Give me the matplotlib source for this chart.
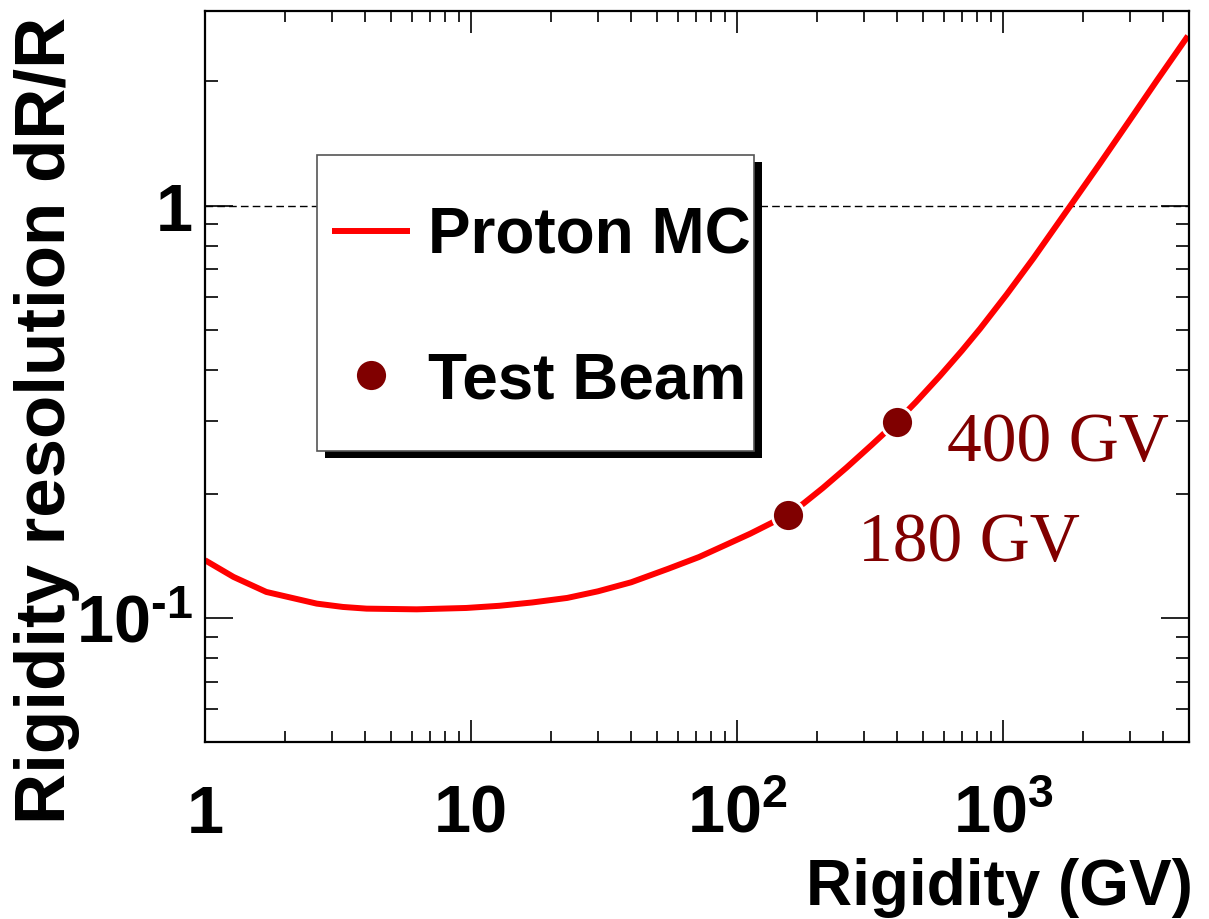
import matplotlib
matplotlib.use('Agg')
import matplotlib.pyplot as plt
from matplotlib.patches import Rectangle
from matplotlib.ticker import NullFormatter, LogLocator

plt.rcParams['font.family'] = ['Liberation Sans', 'DejaVu Sans']
plt.rcParams['font.weight'] = 'bold'
plt.rcParams['mathtext.fontset'] = 'custom'
plt.rcParams['mathtext.rm'] = 'Liberation Sans:bold'
plt.rcParams['mathtext.it'] = 'Liberation Sans:bold'
plt.rcParams['mathtext.bf'] = 'Liberation Sans:bold'

# proton MC curve
rigidity_mc = [1, 1.28, 1.7, 2.1, 2.63, 3.3, 4.05, 6.25, 9.6, 12.8, 17, 23,
               30, 40, 55, 72, 90, 112, 135, 155, 177, 210, 258, 320, 398,
               470, 579, 700, 820, 1032, 1300, 1786, 2317, 3090, 3784, 4955]
resolution_mc = [0.138, 0.1257, 0.1156, 0.112, 0.1083, 0.1063, 0.1053, 0.1049,
                 0.1057, 0.107, 0.109, 0.1118, 0.116, 0.122, 0.1315, 0.1405,
                 0.150, 0.160, 0.170, 0.179, 0.189, 0.2065, 0.2315, 0.2624,
                 0.299, 0.3337, 0.3863, 0.4446, 0.503, 0.609, 0.745, 0.997,
                 1.267, 1.66, 2.01, 2.58]

# test beam points
test_rigidity = [155, 398]
test_resolution = [0.178, 0.299]
test_labels = ['180 GV', '400 GV']

x_ticks = [1, 10, 100, 1000]
x_ticklabels = ['1', '10', '$10^{2}$', '$10^{3}$']
y_ticks = [0.1, 1]
y_ticklabels = ['$10^{\\text{-}1}$', '1']

W, H = 1209, 920
fig = plt.figure(figsize=(W / 100, H / 100), dpi=100)
ax = fig.add_axes([205 / W, 1 - 743 / H, (1189 - 205) / W, (743 - 11.7) / H])

ax.set_xscale('log')
ax.set_yscale('log')

ax.axhline(1, color='black', lw=1.0, dashes=(5.5, 3), zorder=1)
ax.plot(rigidity_mc, resolution_mc, color='#ff0000', lw=4.3, zorder=2,
        solid_capstyle='butt', solid_joinstyle='round', label='Proton MC')
ax.plot(test_rigidity, test_resolution, 'o', color='#800000', ms=23,
        mec='white', mew=2, zorder=3, label='Test Beam')

# annotation text next to the test beam points
ax.text(285, 0.138, test_labels[0], color='#800000', fontsize=50,
        family='Liberation Serif', fontweight='normal', va='baseline')
ax.text(614, 0.241, test_labels[1], color='#800000', fontsize=50,
        family='Liberation Serif', fontweight='normal', va='baseline')

ax.set_xlim(1, 5000)
ax.set_ylim(0.05, 2.97)
ax.set_xticks(x_ticks, x_ticklabels)
ax.set_yticks(y_ticks, y_ticklabels)
ax.xaxis.set_minor_locator(LogLocator(base=10, subs=range(2, 10), numticks=50))
ax.yaxis.set_minor_locator(LogLocator(base=10, subs=range(2, 10), numticks=50))
ax.xaxis.set_minor_formatter(NullFormatter())
ax.yaxis.set_minor_formatter(NullFormatter())

ax.tick_params(which='both', direction='in', top=True, right=True,
               width=1.2, color='black', labelsize=48)
ax.tick_params(axis='x', which='major', length=16, pad=30)
ax.tick_params(axis='x', which='minor', length=8)
ax.tick_params(axis='y', which='major', length=20, pad=9)
ax.tick_params(axis='y', which='minor', length=9.5)
for s in ax.spines.values():
    s.set_linewidth(1.6)

# legend box with shadow
ax.add_patch(Rectangle((325 / W, 1 - 459 / H), 437 / W, 296 / H,
                       transform=fig.transFigure, facecolor='black',
                       edgecolor='none', zorder=4, clip_on=False))
ax.add_patch(Rectangle((317 / W, 1 - 452 / H), 437 / W, 296 / H,
                       transform=fig.transFigure, facecolor='white',
                       edgecolor='#555555', lw=1.2, zorder=4.5, clip_on=False))
leg = ax.legend(loc='upper left', bbox_to_anchor=(332 / W, 1 - 207 / H),
                bbox_transform=fig.transFigure, frameon=False, fontsize=46,
                borderpad=0, borderaxespad=0, handlelength=1.22,
                handletextpad=0.28, labelspacing=1.32, numpoints=1)
leg.set_zorder(5)

fig.text(47 / W, 1 - 420 / H, 'Rigidity resolution dR/R', rotation=90,
         ha='center', va='center', fontsize=51, fontweight='bold')
fig.text(1193 / W, 1 - 905 / H, 'Rigidity (GV)', ha='right', va='baseline',
         fontsize=46, fontweight='bold')

fig.savefig('out.png', dpi=100, facecolor='white')
